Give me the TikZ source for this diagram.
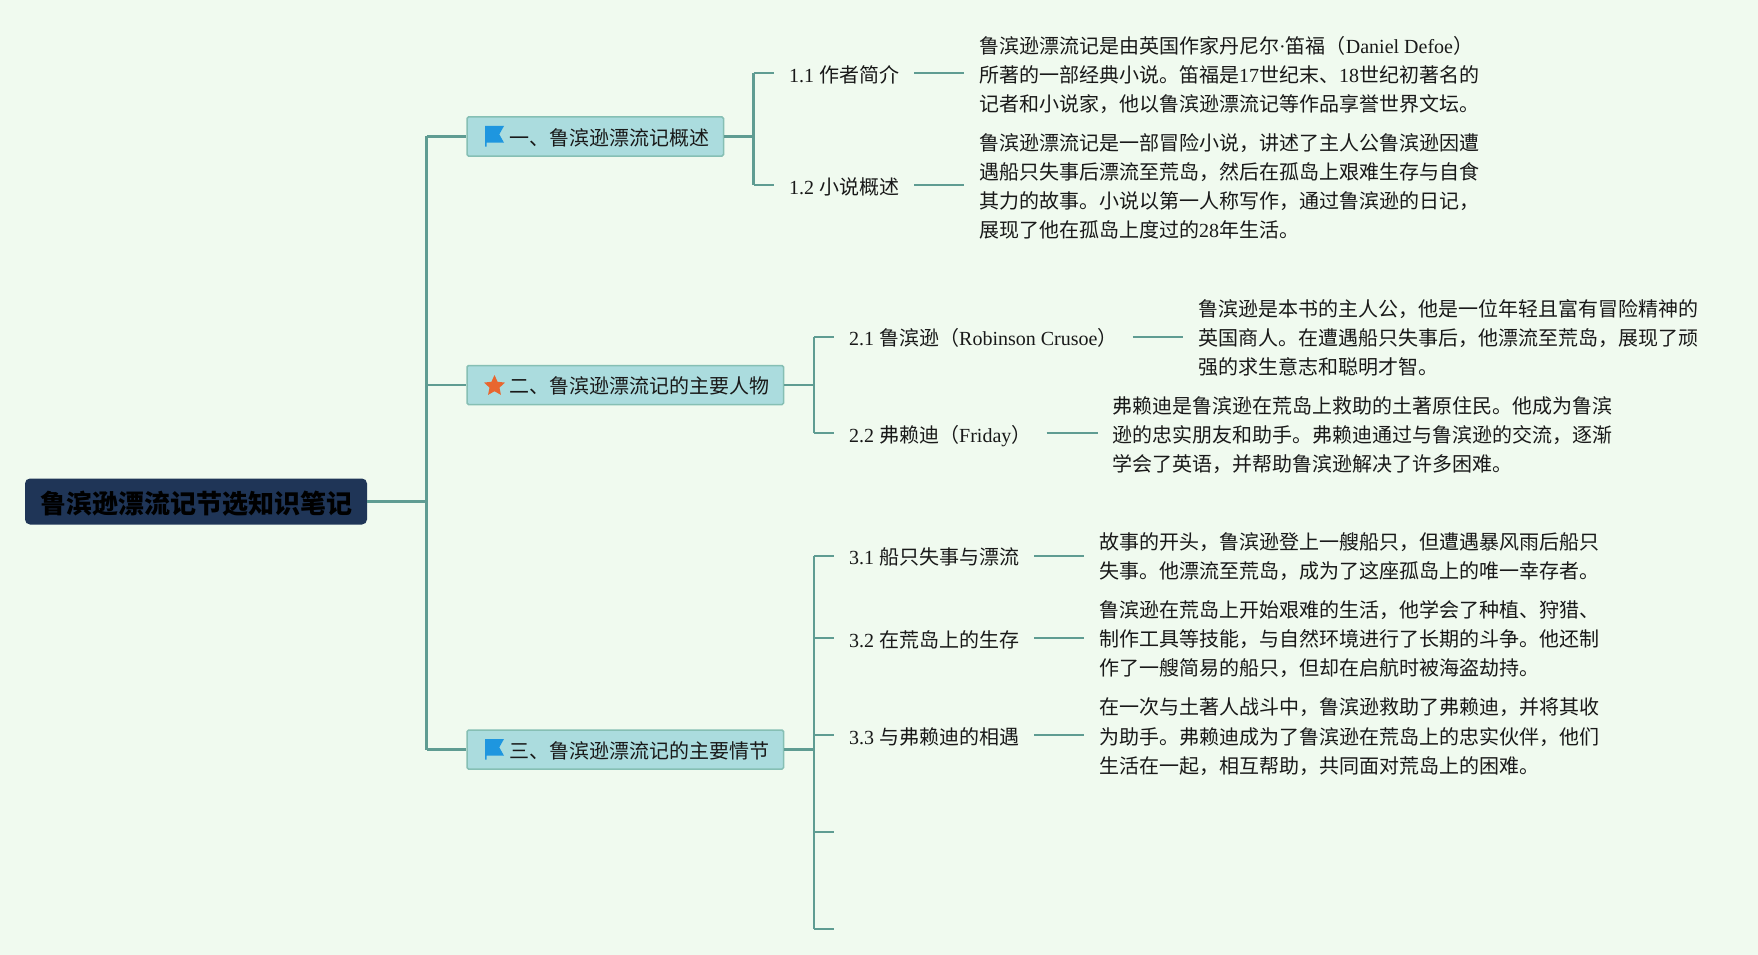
\documentclass[tikz,border=0pt]{standalone}
\usepackage{fontspec}
\setmainfont{Noto Sans CJK SC}
\newfontfamily\enfont{Liberation Serif}
\newcommand{\en}[1]{{\enfont #1}}
\usepackage{xcolor}
\usetikzlibrary{shapes.geometric,positioning}

\definecolor{bgcolor}{HTML}{F0FAEF}
\definecolor{linkcolor}{HTML}{5F9C92}
\definecolor{rootcolor}{HTML}{1F3557}
\definecolor{seccolor}{HTML}{ABDCDE}
\definecolor{secborder}{HTML}{86BFB4}
\definecolor{flagblue}{HTML}{1E96DF}
\definecolor{staror}{HTML}{E8662F}

\tikzset{
  link/.style={draw=linkcolor,line width=2.2pt},
  rootnode/.style={fill=rootcolor,rounded corners=5pt,minimum height=46pt,inner xsep=15pt,inner ysep=0pt,
    text height=26pt,text depth=1.3pt,font=\fontsize{26}{30}\selectfont\bfseries,text=black},
  secnode/.style={anchor=west,fill=seccolor,draw=secborder,line width=1.5pt,rounded corners=1.5pt,minimum height=39pt,
    inner xsep=14.5pt,inner ysep=0pt,text height=19.6pt,text depth=2.4pt,font=\fontsize{20}{24}\selectfont,text=black!90},
  leafnode/.style={anchor=west,inner xsep=15pt,inner ysep=0pt,text height=19.6pt,text depth=1.2pt,
    font=\fontsize{20}{24}\selectfont,text=black!90},
  paranode/.style={anchor=west,align=left,inner xsep=15pt,inner ysep=0pt,font=\fontsize{20}{29.15}\selectfont,text=black!90},
}

\begin{document}
\begin{tikzpicture}[x=1pt,y=-1pt]
    \useasboundingbox (0,0) rectangle (1758,955);
    \fill[bgcolor] (0,0) rectangle (1758,955);

    % trunk
    \coordinate (trunk) at (426.5,501.5);
    \coordinate (fork1) at (753.5,136.5);
    \coordinate (fork2) at (814,385);
    \coordinate (fork3) at (814,749.5);

    \draw[link] (trunk |- fork1) -- (trunk |- fork3);
    \draw[link] (fork1 |- 0,73.3) -- (fork1 |- 0,185);
    \draw[link] (fork2 |- 0,336.7) -- (fork2 |- 0,433.3);
    \draw[link] (fork3 |- 0,555.7) -- (fork3 |- 0,929.3);

    \node[rootnode] (root) at (196,501.5) {鲁滨逊漂流记节选知识笔记};
    \node[secnode] (sec1) at (466.3,136.5) {\hspace*{27.5pt}一、鲁滨逊漂流记概述};
    \node[secnode] (sec2) at (466.3,385) {\hspace*{27.5pt}二、鲁滨逊漂流记的主要人物};
    \node[secnode] (sec3) at (466.3,749.5) {\hspace*{27.5pt}三、鲁滨逊漂流记的主要情节};

    \foreach \sec in {sec1,sec3}
      \fill[flagblue] ([shift={(18.7,-10.5)}]\sec.west) -- ++(19,0) -- ++(-4.7,8.3) -- ++(4.7,8.4)
        -- ++(-17.5,0) -- ++(0,4) -- ++(-1.5,0) -- cycle;
    \node[star,star points=5,star point ratio=2.1,fill=staror,minimum size=22pt,inner sep=0pt] (star2) at (494.5,386) {};

    \draw[link] (root) -- (trunk);
    \draw[link] (sec1) -- (sec1 -| fork1);
    \draw[link] (sec2) -- (sec2 -| fork2);
    \draw[link] (sec3) -- (sec3 -| fork3);
    \draw[link] (trunk |- sec1) -- (sec1);
    \draw[link] (trunk |- sec2) -- (sec2);
    \draw[link] (trunk |- sec3) -- (sec3);

    \node[leafnode] (t11) at (774,73.3) {\en{1.1 }作者简介};
    \node[leafnode] (t12) at (774,185) {\en{1.2 }小说概述};
    \node[leafnode] (t21) at (834,336.7) {\en{2.1 }鲁滨逊（\en{Robinson Crusoe}）};
    \node[leafnode] (t22) at (834,433.3) {\en{2.2 }弗赖迪（\en{Friday}）};
    \node[leafnode] (t31) at (834,555.7) {\en{3.1 }船只失事与漂流};
    \node[leafnode] (t32) at (834,638) {\en{3.2 }在荒岛上的生存};
    \node[leafnode] (t33) at (834,735.3) {\en{3.3 }与弗赖迪的相遇};
    \coordinate (t34) at (834,832.3);
    \coordinate (t35) at (834,929.3);

    \node[paranode] (p11) at (964,75) {鲁滨逊漂流记是由英国作家丹尼尔\en{·}笛福（\en{Daniel Defoe}）\\所著的一部经典小说。笛福是\en{17}世纪末、\en{18}世纪初著名的\\记者和小说家，他以鲁滨逊漂流记等作品享誉世界文坛。};
    \node[paranode] (p12) at (964,186.5) {鲁滨逊漂流记是一部冒险小说，讲述了主人公鲁滨逊因遭\\遇船只失事后漂流至荒岛，然后在孤岛上艰难生存与自食\\其力的故事。小说以第一人称写作，通过鲁滨逊的日记，\\展现了他在孤岛上度过的\en{28}年生活。};
    \node[paranode] (p21) at (1183,338) {鲁滨逊是本书的主人公，他是一位年轻且富有冒险精神的\\英国商人。在遭遇船只失事后，他漂流至荒岛，展现了顽\\强的求生意志和聪明才智。};
    \node[paranode] (p22) at (1097.5,435) {弗赖迪是鲁滨逊在荒岛上救助的土著原住民。他成为鲁滨\\逊的忠实朋友和助手。弗赖迪通过与鲁滨逊的交流，逐渐\\学会了英语，并帮助鲁滨逊解决了许多困难。};
    \node[paranode] (p31) at (1084,557) {故事的开头，鲁滨逊登上一艘船只，但遭遇暴风雨后船只\\失事。他漂流至荒岛，成为了这座孤岛上的唯一幸存者。};
    \node[paranode] (p32) at (1084,639) {鲁滨逊在荒岛上开始艰难的生活，他学会了种植、狩猎、\\制作工具等技能，与自然环境进行了长期的斗争。他还制\\作了一艘简易的船只，但却在启航时被海盗劫持。};
    \node[paranode] (p33) at (1084,736.7) {在一次与土著人战斗中，鲁滨逊救助了弗赖迪，并将其收\\为助手。弗赖迪成为了鲁滨逊在荒岛上的忠实伙伴，他们\\生活在一起，相互帮助，共同面对荒岛上的困难。};

    \foreach \tn in {t11,t12}
      \draw[link] (fork1 |- \tn.west) -- (\tn.west);
    \foreach \tn in {t21,t22}
      \draw[link] (fork2 |- \tn.west) -- (\tn.west);
    \foreach \tn in {t31,t32,t33,t34,t35}
      \draw[link] (fork3 |- \tn) -- (\tn);

    \foreach \tn/\pn in {t11/p11,t12/p12,t21/p21,t22/p22,t31/p31,t32/p32,t33/p33}
      \draw[link] (\tn.east) -- (\tn.east -| \pn.west);
\end{tikzpicture}
\end{document}
